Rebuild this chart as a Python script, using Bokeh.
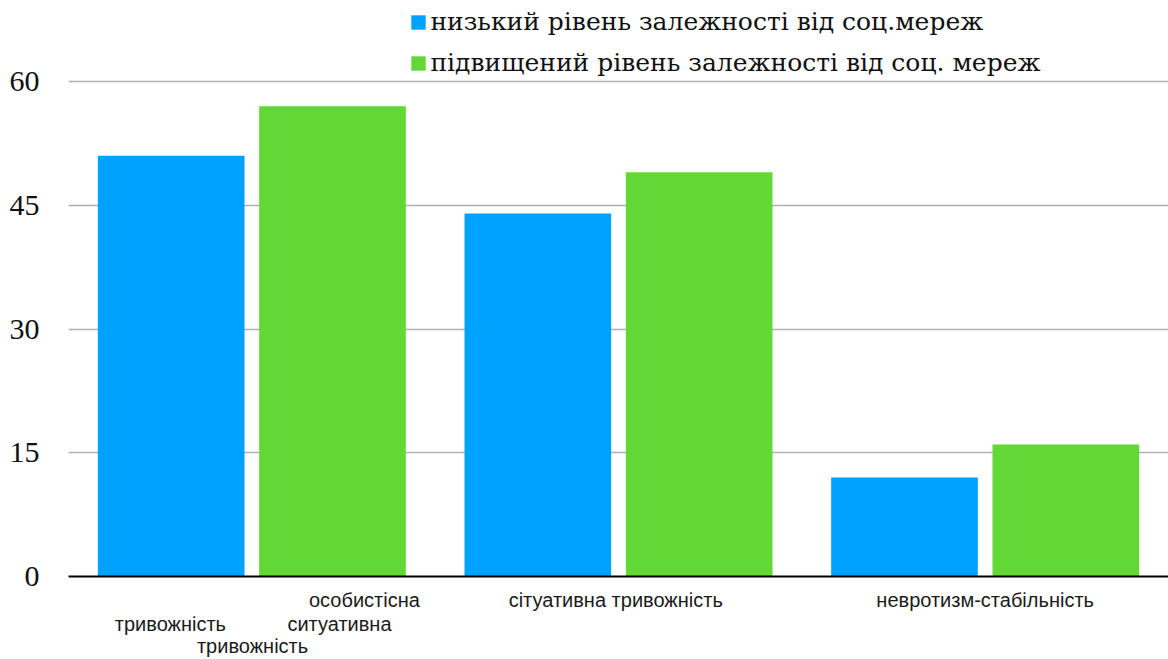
from bokeh.plotting import figure
from bokeh.models import (ColumnDataSource, Range1d, FixedTicker, Legend, LegendItem, LinearAxis, Label)
from bokeh.transform import dodge
from bokeh.embed import file_html
from bokeh.resources import INLINE

# ---- data ----
groups = [0.5, 1.5, 2.5]
low_values = [51, 44, 12]
high_values = [57, 49, 16]
series_names = ["низький рівень залежності  від соц.мереж",
                "підвищений рівень залежності  від соц.  мереж"]
y_ticks = [0, 15, 30, 45, 60]
# category label fragments, one list per text row under the axis (text, position in category units)
row1_texts = ["особистісна", "сітуативна  тривожність", "невротизм-стабільність"]
row1_x = [0.807, 1.5, 2.5]
row2_texts = ["тривожність", "ситуативна"]
row2_x = [0.278, 0.739]
row3_texts = ["тривожність"]
row3_x = [0.502]

BLUE = "#00a2ff"
GREEN = "#61d836"

src = ColumnDataSource(dict(x=groups, low=low_values, high=high_values))

p = figure(width=1168, height=659, output_backend="svg", toolbar_location=None,
           x_range=Range1d(0, 3), y_range=Range1d(0, 69.82),
           min_border_left=68, min_border_right=0, min_border_top=0, min_border_bottom=20)
p.outline_line_color = None
p.background_fill_color = "white"
p.border_fill_color = "white"

r1 = p.vbar(x=dodge("x", -0.22, range=p.x_range), top="low", width=0.4, bottom=0,
            source=src, fill_color=BLUE, line_color=None)
r2 = p.vbar(x=dodge("x", 0.22, range=p.x_range), top="high", width=0.4, bottom=0,
            source=src, fill_color=GREEN, line_color=None)

# y axis
p.yaxis.ticker = FixedTicker(ticks=y_ticks)
p.yaxis.axis_line_color = None
p.yaxis.major_tick_line_color = None
p.yaxis.minor_tick_line_color = None
p.yaxis.major_label_text_font = "Liberation Serif"
p.yaxis.major_label_text_font_size = "30px"
p.yaxis.major_label_text_color = "#111111"
p.yaxis.major_label_standoff = 23

def style_x(ax, texts, xs, standoff, line=False):
    ax.ticker = FixedTicker(ticks=xs)
    ax.major_label_overrides = {x: t for x, t in zip(xs, texts)}
    ax.major_tick_line_color = None
    ax.major_tick_in = 0
    ax.major_tick_out = 0
    ax.minor_tick_line_color = None
    ax.minor_tick_in = 0
    ax.minor_tick_out = 0
    ax.major_label_standoff = standoff
    ax.major_label_text_font = "Liberation Sans"
    ax.major_label_text_font_size = "20px"
    ax.major_label_text_color = "#1a1a1a"
    if line:
        ax.axis_line_color = "black"
        ax.axis_line_width = 2
    else:
        ax.axis_line_color = None

style_x(p.xaxis[0], row1_texts, row1_x, 12, line=True)
ax2 = LinearAxis()
style_x(ax2, row2_texts, row2_x, -1)
p.add_layout(ax2, "below")
ax3 = LinearAxis()
style_x(ax3, row3_texts, row3_x, -3)
p.add_layout(ax3, "below")

p.xgrid.grid_line_color = None
p.ygrid.ticker = FixedTicker(ticks=y_ticks)
p.ygrid.grid_line_color = "#b0b0b0"
p.ygrid.grid_line_width = 1.5

# legend: colour keys from Bokeh's Legend, texts as serif labels beside them
legend = Legend(items=[LegendItem(label=" ", renderers=[r1]),
                       LegendItem(label=" ", renderers=[r2])],
                location=(341, 499), orientation="vertical")
legend.background_fill_alpha = 0
legend.border_line_color = None
legend.padding = 0
legend.margin = 0
legend.spacing = 13
legend.glyph_width = 18
legend.glyph_height = 18
legend.label_height = 28
legend.label_standoff = 0
legend.label_text_font_size = "10px"
p.add_layout(legend)

legend_text_x = 0.987          # just right of the colour keys (category units)
legend_text_y = [67.25, 62.25]  # row centres (value units)
for name, yy in zip(series_names, legend_text_y):
    p.add_layout(Label(x=legend_text_x, y=yy, text=name, text_baseline="middle",
                       text_align="left", text_font="DejaVu Serif",
                       text_font_size="25px", text_color="#111111"))

open("out.html", "w").write(file_html(p, INLINE))
